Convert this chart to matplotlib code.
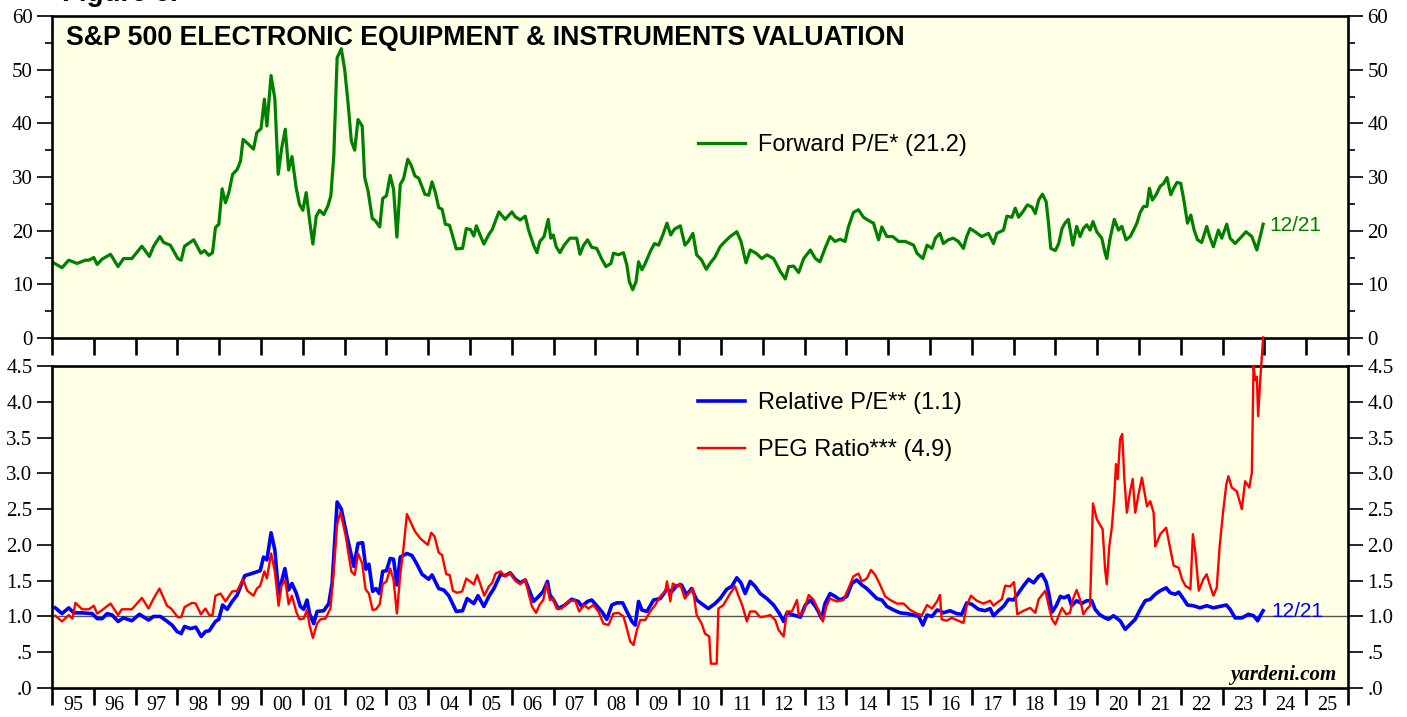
#!/usr/bin/env python3
"""S&P 500 Electronic Equipment & Instruments valuation chart (Yardeni style)."""

import matplotlib
matplotlib.use('Agg')
import matplotlib.pyplot as plt

SANS = ['Liberation Sans', 'DejaVu Sans']
SERIF = ['Liberation Serif', 'DejaVu Serif']
BG = '#ffffe6'

# ---- data (decimal years) ----
pe_years = [
    1995.04, 1995.24, 1995.40, 1995.60, 1995.80, 1995.88, 1996.00, 1996.08, 1996.20, 1996.40,
    1996.58, 1996.71, 1996.91, 1997.15, 1997.33, 1997.43, 1997.58, 1997.67, 1997.83, 1998.01,
    1998.09, 1998.17, 1998.39, 1998.56, 1998.65, 1998.75, 1998.84, 1998.91, 1998.99, 1999.07,
    1999.15, 1999.23, 1999.32, 1999.43, 1999.51, 1999.57, 1999.70, 1999.82, 1999.90, 2000.00,
    2000.08, 2000.14, 2000.24, 2000.33, 2000.41, 2000.49, 2000.58, 2000.66, 2000.74, 2000.84,
    2000.92, 2001.00, 2001.08, 2001.16, 2001.24, 2001.32, 2001.40, 2001.50, 2001.60, 2001.67,
    2001.74, 2001.82, 2001.92, 2002.00, 2002.08, 2002.16, 2002.24, 2002.32, 2002.42, 2002.48,
    2002.56, 2002.66, 2002.74, 2002.84, 2002.91, 2003.00, 2003.09, 2003.17, 2003.25, 2003.33,
    2003.41, 2003.51, 2003.59, 2003.68, 2003.77, 2003.92, 2004.01, 2004.09, 2004.17, 2004.25,
    2004.33, 2004.41, 2004.51, 2004.67, 2004.82, 2004.91, 2005.01, 2005.09, 2005.15, 2005.33,
    2005.45, 2005.53, 2005.69, 2005.84, 2006.00, 2006.08, 2006.20, 2006.32, 2006.40, 2006.52,
    2006.60, 2006.67, 2006.77, 2006.87, 2006.93, 2006.99, 2007.06, 2007.15, 2007.25, 2007.39,
    2007.55, 2007.63, 2007.71, 2007.81, 2007.91, 2008.03, 2008.15, 2008.25, 2008.37, 2008.43,
    2008.55, 2008.67, 2008.75, 2008.81, 2008.89, 2008.97, 2009.03, 2009.11, 2009.19, 2009.31,
    2009.41, 2009.51, 2009.61, 2009.71, 2009.80, 2009.89, 2010.03, 2010.14, 2010.22, 2010.33,
    2010.42, 2010.54, 2010.65, 2010.74, 2010.86, 2010.98, 2011.10, 2011.22, 2011.38, 2011.48,
    2011.60, 2011.70, 2011.84, 2011.98, 2012.10, 2012.26, 2012.42, 2012.54, 2012.62, 2012.74,
    2012.86, 2012.98, 2013.14, 2013.26, 2013.37, 2013.49, 2013.61, 2013.73, 2013.85, 2013.97,
    2014.05, 2014.17, 2014.29, 2014.41, 2014.53, 2014.65, 2014.77, 2014.85, 2014.97, 2015.11,
    2015.25, 2015.41, 2015.61, 2015.69, 2015.83, 2015.93, 2016.05, 2016.13, 2016.24, 2016.32,
    2016.44, 2016.56, 2016.68, 2016.80, 2016.88, 2016.96, 2017.08, 2017.24, 2017.40, 2017.52,
    2017.60, 2017.76, 2017.84, 2017.96, 2018.04, 2018.12, 2018.22, 2018.33, 2018.44, 2018.52,
    2018.60, 2018.69, 2018.78, 2018.84, 2018.89, 2019.00, 2019.08, 2019.16, 2019.23, 2019.31,
    2019.37, 2019.42, 2019.51, 2019.59, 2019.67, 2019.75, 2019.83, 2019.90, 2019.99, 2020.11,
    2020.19, 2020.23, 2020.31, 2020.41, 2020.51, 2020.59, 2020.69, 2020.79, 2020.87, 2020.95,
    2021.03, 2021.11, 2021.19, 2021.25, 2021.32, 2021.41, 2021.51, 2021.59, 2021.67, 2021.76,
    2021.83, 2021.91, 2022.00, 2022.08, 2022.16, 2022.24, 2022.32, 2022.40, 2022.50, 2022.62,
    2022.69, 2022.78, 2022.90, 2022.98, 2023.10, 2023.18, 2023.30, 2023.42, 2023.56, 2023.70,
    2023.82, 2023.90, 2023.97,
]
pe_values = [
    14.0, 13.1, 14.5, 13.9, 14.5, 14.5, 15.0, 13.7, 14.7, 15.6,
    13.3, 14.8, 14.8, 17.1, 15.2, 17.1, 18.9, 17.8, 17.3, 14.8,
    14.5, 17.1, 18.3, 15.8, 16.3, 15.4, 15.9, 20.6, 21.2, 27.8,
    25.2, 27.1, 30.5, 31.4, 33.0, 37.0, 36.1, 35.2, 38.3, 39.0,
    44.5, 39.5, 48.9, 44.6, 30.5, 35.2, 38.9, 31.3, 33.8, 28.0,
    24.9, 23.8, 27.1, 22.0, 17.5, 22.7, 23.8, 23.0, 24.6, 26.5,
    33.9, 52.2, 53.9, 50.1, 43.9, 36.7, 35.0, 40.7, 39.5, 29.9,
    27.4, 22.3, 21.8, 20.7, 26.0, 26.5, 30.3, 27.7, 18.8, 28.6,
    29.7, 33.3, 32.2, 30.2, 29.8, 26.8, 26.6, 29.1, 27.1, 24.3,
    24.0, 21.2, 21.0, 16.6, 16.7, 20.4, 20.2, 19.0, 20.9, 17.5,
    19.3, 20.2, 23.5, 22.1, 23.5, 22.6, 22.0, 22.7, 20.1, 17.3,
    15.9, 18.0, 18.9, 22.1, 18.6, 19.2, 17.0, 15.9, 17.3, 18.6,
    18.6, 15.6, 17.2, 18.3, 16.9, 16.7, 14.7, 13.3, 13.9, 15.8,
    15.5, 15.9, 13.6, 10.5, 9.0, 10.5, 14.2, 12.7, 13.9, 16.1,
    17.6, 17.3, 19.2, 21.4, 19.2, 20.3, 20.9, 17.3, 18.0, 19.5,
    15.5, 14.5, 12.8, 13.9, 15.1, 17.0, 18.0, 18.9, 19.8, 18.0,
    14.0, 16.4, 15.8, 14.8, 15.5, 14.8, 12.4, 11.0, 13.3, 13.4,
    12.2, 14.8, 16.4, 14.8, 14.2, 16.7, 18.9, 18.0, 18.4, 18.0,
    20.7, 23.4, 23.9, 22.5, 21.9, 21.4, 18.3, 20.7, 18.9, 18.9,
    18.0, 18.0, 17.3, 15.8, 14.8, 17.3, 16.7, 18.6, 19.5, 17.6,
    18.3, 18.6, 18.0, 16.7, 18.9, 20.4, 19.8, 18.9, 19.5, 17.6,
    19.5, 20.1, 22.7, 22.5, 24.2, 22.5, 23.5, 24.8, 24.4, 23.2,
    25.7, 26.8, 25.4, 21.1, 16.7, 16.3, 17.6, 20.4, 21.4, 22.1,
    19.5, 17.3, 20.8, 18.9, 20.4, 21.1, 20.1, 21.7, 19.8, 18.6,
    15.8, 14.8, 18.6, 22.1, 20.1, 20.8, 18.3, 18.9, 20.1, 21.4,
    23.4, 24.5, 24.5, 27.9, 25.7, 26.7, 28.3, 28.8, 29.9, 26.7,
    27.9, 29.0, 28.8, 25.4, 21.4, 22.9, 20.1, 18.3, 17.8, 20.8,
    18.9, 17.0, 20.1, 18.6, 21.2, 18.6, 17.6, 18.6, 19.8, 18.9,
    16.4, 18.9, 21.2,
]

rel_years = [
    1995.08, 1995.24, 1995.40, 1995.52, 1995.72, 1995.96, 1996.08, 1996.20, 1996.32, 1996.44,
    1996.58, 1996.71, 1996.91, 1997.09, 1997.31, 1997.43, 1997.59, 1997.71, 1997.87, 1997.99,
    1998.09, 1998.17, 1998.31, 1998.44, 1998.57, 1998.67, 1998.76, 1998.91, 1998.99, 1999.08,
    1999.19, 1999.31, 1999.43, 1999.61, 1999.78, 1999.98, 2000.06, 2000.14, 2000.24, 2000.33,
    2000.42, 2000.57, 2000.66, 2000.74, 2000.84, 2000.94, 2001.02, 2001.10, 2001.16, 2001.26,
    2001.34, 2001.50, 2001.62, 2001.70, 2001.82, 2001.92, 2002.06, 2002.22, 2002.32, 2002.43,
    2002.51, 2002.58, 2002.67, 2002.75, 2002.83, 2002.91, 2003.00, 2003.09, 2003.17, 2003.25,
    2003.33, 2003.49, 2003.61, 2003.73, 2003.85, 2004.01, 2004.09, 2004.25, 2004.37, 2004.49,
    2004.67, 2004.82, 2004.93, 2005.09, 2005.19, 2005.33, 2005.45, 2005.57, 2005.73, 2005.84,
    2005.96, 2006.08, 2006.20, 2006.32, 2006.40, 2006.52, 2006.64, 2006.75, 2006.85, 2006.91,
    2006.99, 2007.11, 2007.27, 2007.43, 2007.59, 2007.67, 2007.81, 2007.91, 2008.03, 2008.15,
    2008.27, 2008.39, 2008.51, 2008.65, 2008.75, 2008.87, 2008.95, 2009.03, 2009.11, 2009.23,
    2009.39, 2009.55, 2009.71, 2009.83, 2009.94, 2010.06, 2010.18, 2010.30, 2010.42, 2010.58,
    2010.70, 2010.86, 2010.98, 2011.14, 2011.26, 2011.38, 2011.48, 2011.58, 2011.70, 2011.82,
    2011.94, 2012.10, 2012.26, 2012.40, 2012.50, 2012.58, 2012.74, 2012.90, 2013.02, 2013.14,
    2013.26, 2013.33, 2013.41, 2013.49, 2013.61, 2013.73, 2013.85, 2014.01, 2014.13, 2014.25,
    2014.37, 2014.49, 2014.61, 2014.73, 2014.85, 2014.97, 2015.13, 2015.29, 2015.45, 2015.61,
    2015.73, 2015.83, 2015.93, 2016.05, 2016.17, 2016.24, 2016.32, 2016.48, 2016.64, 2016.76,
    2016.88, 2017.00, 2017.16, 2017.32, 2017.44, 2017.52, 2017.64, 2017.76, 2017.88, 2018.00,
    2018.12, 2018.24, 2018.36, 2018.48, 2018.60, 2018.68, 2018.78, 2018.84, 2018.92, 2019.02,
    2019.12, 2019.21, 2019.31, 2019.39, 2019.51, 2019.63, 2019.75, 2019.87, 2019.95, 2020.05,
    2020.19, 2020.27, 2020.39, 2020.55, 2020.67, 2020.79, 2020.91, 2021.03, 2021.15, 2021.27,
    2021.39, 2021.51, 2021.65, 2021.75, 2021.87, 2021.95, 2022.07, 2022.16, 2022.30, 2022.46,
    2022.62, 2022.78, 2022.94, 2023.09, 2023.18, 2023.30, 2023.46, 2023.62, 2023.74, 2023.84,
    2023.90, 2023.97,
]
rel_values = [
    1.12, 1.04, 1.12, 1.05, 1.05, 1.04, 0.97, 0.97, 1.04, 1.02,
    0.93, 0.98, 0.94, 1.03, 0.95, 1.00, 1.00, 0.95, 0.88, 0.79,
    0.76, 0.86, 0.83, 0.85, 0.72, 0.79, 0.80, 0.93, 0.96, 1.16,
    1.10, 1.21, 1.30, 1.57, 1.60, 1.64, 1.83, 1.79, 2.17, 1.93,
    1.32, 1.67, 1.37, 1.46, 1.33, 1.14, 1.10, 1.23, 1.04, 0.90,
    1.07, 1.08, 1.18, 1.46, 2.60, 2.50, 2.11, 1.70, 2.02, 2.03,
    1.66, 1.73, 1.35, 1.39, 1.32, 1.63, 1.64, 1.81, 1.80, 1.44,
    1.83, 1.88, 1.85, 1.73, 1.59, 1.52, 1.58, 1.39, 1.37, 1.29,
    1.07, 1.08, 1.25, 1.18, 1.29, 1.14, 1.28, 1.39, 1.59, 1.57,
    1.61, 1.52, 1.47, 1.51, 1.39, 1.21, 1.28, 1.35, 1.49, 1.30,
    1.24, 1.11, 1.16, 1.24, 1.21, 1.14, 1.21, 1.23, 1.15, 1.07,
    0.96, 1.16, 1.19, 1.19, 1.07, 0.93, 0.88, 1.21, 1.09, 1.07,
    1.23, 1.25, 1.38, 1.35, 1.43, 1.44, 1.30, 1.39, 1.23, 1.16,
    1.11, 1.18, 1.25, 1.38, 1.42, 1.54, 1.47, 1.32, 1.49, 1.42,
    1.32, 1.25, 1.16, 1.04, 0.93, 1.05, 1.02, 0.99, 1.16, 1.23,
    1.14, 1.07, 0.97, 1.18, 1.32, 1.28, 1.23, 1.28, 1.46, 1.51,
    1.44, 1.39, 1.32, 1.25, 1.23, 1.14, 1.09, 1.05, 1.04, 1.02,
    1.00, 0.88, 1.02, 1.00, 1.09, 1.08, 1.05, 1.08, 1.04, 1.03,
    1.19, 1.17, 1.10, 1.08, 1.11, 1.01, 1.08, 1.14, 1.24, 1.23,
    1.33, 1.43, 1.52, 1.47, 1.56, 1.59, 1.48, 1.33, 1.06, 1.15,
    1.28, 1.26, 1.29, 1.15, 1.22, 1.18, 1.22, 1.22, 1.10, 1.03,
    0.98, 0.96, 1.01, 0.94, 0.82, 0.89, 0.96, 1.10, 1.22, 1.24,
    1.31, 1.36, 1.40, 1.33, 1.31, 1.34, 1.24, 1.16, 1.15, 1.12,
    1.15, 1.12, 1.14, 1.16, 1.10, 0.98, 0.98, 1.03, 1.01, 0.94,
    1.01, 1.08,
]

peg_years = [
    1995.08, 1995.24, 1995.40, 1995.49, 1995.56, 1995.72, 1995.88, 1996.00, 1996.08, 1996.20,
    1996.40, 1996.58, 1996.67, 1996.91, 1997.15, 1997.31, 1997.43, 1997.57, 1997.75, 1997.85,
    1998.01, 1998.09, 1998.17, 1998.35, 1998.44, 1998.56, 1998.67, 1998.76, 1998.84, 1998.91,
    1999.03, 1999.15, 1999.31, 1999.43, 1999.57, 1999.67, 1999.82, 1999.90, 1999.98, 2000.08,
    2000.14, 2000.24, 2000.33, 2000.42, 2000.49, 2000.58, 2000.66, 2000.74, 2000.84, 2000.92,
    2001.02, 2001.10, 2001.16, 2001.24, 2001.34, 2001.42, 2001.54, 2001.66, 2001.74, 2001.82,
    2001.90, 2002.02, 2002.16, 2002.24, 2002.32, 2002.42, 2002.50, 2002.58, 2002.67, 2002.75,
    2002.84, 2002.91, 2003.00, 2003.09, 2003.17, 2003.25, 2003.33, 2003.41, 2003.49, 2003.68,
    2003.81, 2003.99, 2004.07, 2004.15, 2004.25, 2004.33, 2004.43, 2004.51, 2004.59, 2004.69,
    2004.81, 2004.91, 2005.09, 2005.17, 2005.34, 2005.45, 2005.53, 2005.61, 2005.73, 2005.84,
    2005.96, 2006.08, 2006.20, 2006.32, 2006.40, 2006.48, 2006.58, 2006.66, 2006.75, 2006.83,
    2006.91, 2006.99, 2007.07, 2007.19, 2007.35, 2007.51, 2007.61, 2007.73, 2007.83, 2007.95,
    2008.07, 2008.19, 2008.31, 2008.43, 2008.55, 2008.67, 2008.75, 2008.83, 2008.91, 2008.99,
    2009.07, 2009.19, 2009.31, 2009.43, 2009.55, 2009.67, 2009.71, 2009.79, 2009.85, 2009.96,
    2010.02, 2010.14, 2010.22, 2010.33, 2010.42, 2010.54, 2010.62, 2010.72, 2010.76, 2010.90,
    2010.94, 2011.06, 2011.22, 2011.34, 2011.40, 2011.46, 2011.52, 2011.62, 2011.70, 2011.82,
    2011.94, 2012.06, 2012.18, 2012.30, 2012.38, 2012.50, 2012.58, 2012.70, 2012.82, 2012.86,
    2012.98, 2013.10, 2013.22, 2013.33, 2013.44, 2013.52, 2013.61, 2013.77, 2013.93, 2014.05,
    2014.17, 2014.29, 2014.37, 2014.49, 2014.59, 2014.69, 2014.81, 2014.93, 2015.05, 2015.21,
    2015.37, 2015.53, 2015.69, 2015.81, 2015.93, 2016.05, 2016.17, 2016.24, 2016.28, 2016.40,
    2016.52, 2016.68, 2016.80, 2016.88, 2016.98, 2017.12, 2017.28, 2017.44, 2017.52, 2017.60,
    2017.72, 2017.80, 2017.92, 2018.01, 2018.09, 2018.24, 2018.40, 2018.52, 2018.60, 2018.76,
    2018.84, 2018.92, 2019.00, 2019.08, 2019.16, 2019.26, 2019.35, 2019.42, 2019.51, 2019.59,
    2019.67, 2019.75, 2019.83, 2019.90, 2019.99, 2020.06, 2020.13, 2020.19, 2020.23, 2020.29,
    2020.35, 2020.41, 2020.45, 2020.49, 2020.55, 2020.60, 2020.65, 2020.71, 2020.79, 2020.85,
    2020.91, 2020.99, 2021.07, 2021.12, 2021.19, 2021.27, 2021.35, 2021.39, 2021.51, 2021.65,
    2021.75, 2021.83, 2021.95, 2022.03, 2022.11, 2022.23, 2022.29, 2022.35, 2022.43, 2022.54,
    2022.62, 2022.70, 2022.78, 2022.86, 2022.93, 2023.01, 2023.09, 2023.14, 2023.22, 2023.34,
    2023.46, 2023.54, 2023.64, 2023.70, 2023.74, 2023.78, 2023.82, 2023.85, 2023.90, 2023.97,
]
peg_values = [
    1.01, 0.93, 1.02, 0.97, 1.19, 1.10, 1.10, 1.15, 1.04, 1.09,
    1.18, 1.02, 1.10, 1.10, 1.26, 1.11, 1.25, 1.39, 1.15, 1.11,
    0.99, 0.99, 1.13, 1.19, 1.18, 1.03, 1.11, 1.02, 1.02, 1.29,
    1.32, 1.21, 1.35, 1.36, 1.52, 1.36, 1.29, 1.39, 1.43, 1.63,
    1.53, 1.88, 1.63, 1.15, 1.43, 1.51, 1.17, 1.29, 1.07, 0.96,
    0.97, 1.09, 0.88, 0.70, 0.90, 0.96, 0.97, 1.11, 1.65, 2.28,
    2.46, 2.14, 1.63, 1.58, 1.88, 1.74, 1.38, 1.32, 1.09, 1.10,
    1.17, 1.45, 1.49, 1.67, 1.51, 1.04, 1.58, 1.97, 2.43, 2.19,
    2.09, 2.00, 2.17, 2.12, 1.89, 1.86, 1.59, 1.58, 1.36, 1.33,
    1.35, 1.53, 1.45, 1.58, 1.29, 1.42, 1.47, 1.60, 1.63, 1.56,
    1.61, 1.50, 1.45, 1.52, 1.32, 1.14, 1.05, 1.16, 1.23, 1.46,
    1.23, 1.25, 1.11, 1.11, 1.21, 1.23, 1.07, 1.16, 1.11, 1.16,
    1.07, 0.90, 0.88, 1.04, 1.05, 1.00, 0.83, 0.65, 0.60, 0.81,
    0.95, 0.95, 1.07, 1.16, 1.28, 1.35, 1.49, 1.21, 1.46, 1.42,
    1.46, 1.25, 1.32, 1.39, 1.02, 0.90, 0.76, 0.72, 0.34, 0.34,
    1.11, 1.16, 1.32, 1.42, 1.32, 1.23, 1.14, 0.93, 1.07, 1.07,
    0.99, 1.00, 1.02, 0.95, 0.81, 0.72, 1.07, 1.07, 1.23, 1.02,
    1.07, 1.30, 1.23, 1.09, 0.93, 1.14, 1.25, 1.21, 1.23, 1.39,
    1.56, 1.60, 1.49, 1.53, 1.65, 1.58, 1.44, 1.28, 1.23, 1.18,
    1.18, 1.09, 1.04, 1.02, 1.16, 1.11, 1.21, 1.30, 0.96, 0.94,
    0.98, 0.94, 0.91, 1.15, 1.29, 1.22, 1.18, 1.22, 1.15, 1.19,
    1.24, 1.43, 1.42, 1.48, 1.03, 1.08, 1.12, 1.05, 1.24, 1.36,
    1.15, 0.96, 0.89, 1.01, 1.12, 1.03, 1.05, 1.24, 1.37, 1.24,
    1.03, 1.10, 1.15, 2.58, 2.36, 2.29, 2.22, 1.66, 1.45, 1.98,
    2.24, 2.68, 3.13, 2.92, 3.48, 3.55, 2.92, 2.45, 2.75, 2.92,
    2.45, 2.71, 2.94, 2.78, 2.54, 2.61, 2.45, 1.98, 2.15, 2.24,
    1.94, 1.71, 1.68, 1.52, 1.43, 1.38, 2.15, 1.89, 1.36, 1.52,
    1.59, 1.43, 1.29, 1.40, 1.98, 2.45, 2.85, 2.96, 2.80, 2.75,
    2.50, 2.89, 2.80, 3.01, 4.50, 4.30, 4.35, 3.80, 4.30, 4.90,
]

years = list(range(1995, 2027))
year_labels = [f'{y % 100:02d}' for y in range(1995, 2026)]


def style_axis(ax, yticks, ylabels, minor=None):
    ax.set_facecolor(BG)
    ax.set_xlim(1995, 2026)
    for sp in ax.spines.values():
        sp.set_linewidth(1.9)
    ax.set_yticks(yticks)
    ax.set_yticklabels(ylabels)
    if minor is not None:
        ax.set_yticks(minor, minor=True)
    ax.tick_params(axis='y', which='major', direction='out', length=11, width=1.2,
                   left=True, right=True, labelleft=True, labelright=True,
                   labelsize=15, pad=3)
    ax.tick_params(axis='y', which='minor', direction='out', length=5, width=1.2,
                   left=True, right=True)
    for lab in ax.get_yticklabels():
        lab.set_fontfamily(SERIF)
    ax.set_xticks(years)
    ax.tick_params(axis='x', which='major', direction='out', length=12.5, width=1.9,
                   labelbottom=False)


fig = plt.figure(figsize=(14.07, 7.17), dpi=100)
ax1 = fig.add_axes([52 / 1407, 1 - 338 / 717, 1296 / 1407, 322 / 717])
ax2 = fig.add_axes([52 / 1407, 1 - 688 / 717, 1296 / 1407, 322 / 717])

# top panel: forward P/E
style_axis(ax1, range(0, 61, 10), [str(v) for v in range(0, 61, 10)],
           minor=range(5, 60, 10))
ax1.set_ylim(0, 60)
ax1.plot(pe_years, pe_values, color='#008000', lw=2.3, label='Forward P/E* (21.2)')
ax1.text(0.0108, 0.91, 'S&P 500 ELECTRONIC EQUIPMENT & INSTRUMENTS VALUATION',
         transform=ax1.transAxes, fontsize=19.3, fontweight='bold', family=SANS,
         va='baseline', ha='left')
ax1.text(2024.12, 21.0, '12/21', color='#008000', fontsize=15, family=SANS,
         ha='left', va='center')
ax1.legend(loc='center left', bbox_to_anchor=(0.4985, 0.600), frameon=False,
           borderpad=0, borderaxespad=0, handlelength=2.0, handletextpad=0.55,
           prop={'family': SANS, 'size': 17})

# bottom panel: relative P/E and PEG
rel_ticks = [i * 0.5 for i in range(10)]
rel_labels = ['.0', '.5', '1.0', '1.5', '2.0', '2.5', '3.0', '3.5', '4.0', '4.5']
style_axis(ax2, rel_ticks, rel_labels)
ax2.set_ylim(0, 4.5)
ax2.axhline(1.0, color='#555555', lw=1.0, zorder=1)
ax2.plot(rel_years, rel_values, color='#0000ff', lw=2.6, label='Relative P/E** (1.1)',
         zorder=2)
ax2.plot(peg_years, peg_values, color='#ff0000', lw=1.7, label='PEG Ratio*** (4.9)',
         zorder=3, clip_on=False)
ax2.text(2024.17, 1.07, '12/21', color='#0000ff', fontsize=15, family=SANS,
         ha='left', va='center')
ax2.text(0.9907, 0.025, 'yardeni.com', transform=ax2.transAxes, fontsize=15,
         fontweight='bold', fontstyle='italic', family=SERIF, ha='right', va='baseline')
ax2.legend(loc='center left', bbox_to_anchor=(0.4985, 0.812), frameon=False,
           borderpad=0, borderaxespad=0, handlelength=2.0, handletextpad=0.55,
           labelspacing=1.05, prop={'family': SANS, 'size': 17})

# year labels centred between the year ticks
ax2.set_xticks([y + 0.5 for y in range(1995, 2026)], minor=True)
ax2.set_xticklabels(year_labels, minor=True)
ax2.tick_params(axis='x', which='minor', length=0, pad=6, labelsize=14.5)
for lab in ax2.get_xticklabels(minor=True):
    lab.set_fontfamily(SERIF)

fig.text(62 / 1407, 1 - 1 / 717, 'Figure 6.', fontsize=20, fontweight='bold',
         family=SANS, va='baseline')

fig.savefig('out.png', dpi=100, facecolor='white')
